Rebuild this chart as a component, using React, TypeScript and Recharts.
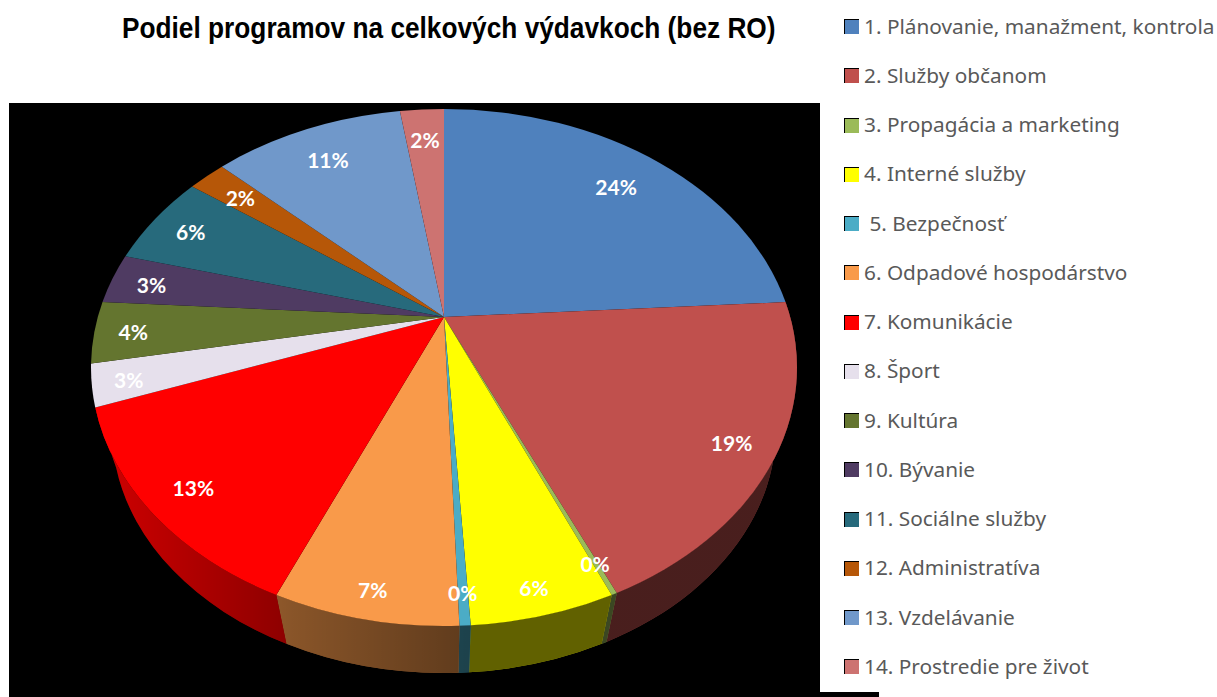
import React from "react";
import { Legend, Pie, PieChart } from "recharts";

const categories = [
  "1. Plánovanie, manažment, kontrola",
  "2. Služby občanom",
  "3. Propagácia a marketing",
  "4. Interné služby",
  " 5. Bezpečnosť",
  "6. Odpadové hospodárstvo",
  "7. Komunikácie",
  "8. Šport",
  "9. Kultúra",
  "10. Bývanie",
  "11. Sociálne služby",
  "12. Administratíva",
  "13. Vzdelávanie",
  "14. Prostredie pre život",
];
const shares = [24.05, 19.25, 0.22, 5.52, 0.42, 7.08, 12.98, 2.63, 3.86, 3.16, 5.83, 2.08, 10.55, 2.43];
const colors = [
  "#4F81BD", "#C0504D", "#9BBB59", "#FFFF00", "#4BACC6", "#F99A4A", "#FF0000",
  "#E6E0EC", "#64752F", "#4F3B62", "#276A7C", "#B65708", "#7098CA", "#CD7371",
];

const data = categories.map((name, i) => ({ name, value: shares[i], fill: colors[i] }));

// how far out each percent label sits, as a fraction of the radius
const labelReach = [0.809, 0.884, 0.906, 0.92, 0.91, 0.915, 0.877, 0.9, 0.89, 0.879, 0.868, 0.843, 0.823, 0.835];

// the picture is a perspective view: the apex sits above the centre of the rim ellipse
const PERSPECTIVE = 0.1954;
const RIM_RATIO = 258.5 / 353;
const DEPTH_SCALE = 0.94;
const DEPTH_DROP = 62.5;

function project(cx: number, cy: number, R: number, radius: number, angle: number) {
  const a = (angle * Math.PI) / 180;
  const u = radius * Math.cos(a);
  const v = -radius * Math.sin(a);
  const w = 1 - PERSPECTIVE * v;
  const flat = 1 - PERSPECTIVE * PERSPECTIVE;
  return {
    x: cx + (R * Math.sqrt(flat) * u) / w,
    y: cy + (R * RIM_RATIO * flat * v) / w,
  };
}

function rimLower(p: { x: number; y: number }, cx: number, cy: number, R: number) {
  const rimCy = cy + R * RIM_RATIO * PERSPECTIVE;
  return {
    x: cx + DEPTH_SCALE * (p.x - cx),
    y: rimCy + DEPTH_DROP + DEPTH_SCALE * (p.y - rimCy),
  };
}

function TopSlice(props: any) {
  const { cx, cy, outerRadius: R, startAngle, endAngle, fill } = props;
  const a = project(cx, cy, R, 1, startAngle);
  const b = project(cx, cy, R, 1, endAngle);
  const ry = R * RIM_RATIO;
  return <path d={`M${cx},${cy}L${a.x},${a.y}A${R},${ry} 0 0 1 ${b.x},${b.y}Z`} fill={fill} />;
}

function WallSlice(props: any) {
  const { cx, cy, outerRadius: R, startAngle, endAngle, fill } = props;
  const a = project(cx, cy, R, 1, startAngle);
  const b = project(cx, cy, R, 1, endAngle);
  // slices on the far side have no visible wall
  if (Math.max(a.y, b.y) < cy + R * RIM_RATIO * PERSPECTIVE + DEPTH_DROP) return null;
  const c = rimLower(b, cx, cy, R);
  const d = rimLower(a, cx, cy, R);
  const ry = R * RIM_RATIO;
  const path =
    `M${a.x},${a.y}A${R},${ry} 0 0 1 ${b.x},${b.y}L${c.x},${c.y}` +
    `A${R * DEPTH_SCALE},${ry * DEPTH_SCALE} 0 0 0 ${d.x},${d.y}Z`;
  return (
    <g>
      <path d={path} fill={fill} />
      <path d={path} fill="url(#wallShade)" />
    </g>
  );
}

function renderLabel(props: any) {
  const { cx, cy, outerRadius, midAngle, percent, index } = props;
  const p = project(cx, cy, outerRadius, labelReach[index], midAngle);
  return (
    <text
      x={p.x}
      y={p.y + 1}
      fill="#fff"
      textAnchor="middle"
      dominantBaseline="central"
      style={{ fontFamily: "Lato", fontWeight: 700, fontSize: 21 }}
    >
      {Math.round(percent * 100)}%
    </text>
  );
}

function LegendList({ payload }: any) {
  // both Pie series report entries, keep one row per category
  const rows = categories.map((name) => (payload || []).find((e: any) => e.value === name)).filter(Boolean);
  return (
    <div>
      {rows.map((e: any) => (
        <div key={e.value} style={{ height: 49.25, display: "flex", alignItems: "center" }}>
          <span
            style={{
              width: 15,
              height: 15,
              boxSizing: "border-box",
              background: e.payload?.fill ?? e.color,
              borderLeft: "1px solid #000",
              borderTop: "1px solid #000",
              marginRight: 5,
              flex: "none",
            }}
          />
          <span
            style={{
              whiteSpace: "pre",
              fontFamily: "'Noto Sans'",
              fontSize: 20.8,
              color: "#595959",
              position: "relative",
              top: -1,
            }}
          >
            {e.value}
          </span>
        </div>
      ))}
    </div>
  );
}

export default function App() {
  return (
    <div style={{ position: "absolute", left: 0, top: 0, width: 1217, height: 697, overflow: "hidden", background: "#fff" }}>
      <div style={{ position: "absolute", left: 9, top: 103, width: 811, height: 594, background: "#000" }} />
      <div style={{ position: "absolute", left: 820, top: 692, width: 59, height: 5, background: "#000" }} />
      <div
        style={{
          position: "absolute",
          left: 122,
          top: 11,
          whiteSpace: "nowrap",
          fontFamily: "'Liberation Sans'",
          fontWeight: 700,
          fontSize: 30,
          color: "#000",
          transformOrigin: "0 0",
          transform: "scaleX(0.875)",
        }}
      >
        Podiel programov na celkových výdavkoch (bez RO)
      </div>
      <PieChart
        width={1217}
        height={697}
        margin={{ top: 0, right: 0, bottom: 0, left: 0 }}
        style={{ position: "absolute", left: 0, top: 0 }}
      >
        <defs>
          <linearGradient id="wallShade" gradientUnits="userSpaceOnUse" x1={110} y1={0} x2={470} y2={0}>
            <stop offset="0%" stopColor="#000" stopOpacity={0.2} />
            <stop offset="50%" stopColor="#000" stopOpacity={0.45} />
            <stop offset="100%" stopColor="#000" stopOpacity={0.62} />
          </linearGradient>
        </defs>
        <Pie
          data={data}
          dataKey="value"
          nameKey="name"
          cx={444}
          cy={317}
          outerRadius={353}
          startAngle={90}
          endAngle={-270}
          stroke="none"
          legendType="none"
          isAnimationActive={false}
          shape={WallSlice}
          label={false}
        />
        <Pie
          data={data}
          dataKey="value"
          nameKey="name"
          cx={444}
          cy={317}
          outerRadius={353}
          startAngle={90}
          endAngle={-270}
          stroke="none"
          isAnimationActive={false}
          shape={TopSlice}
          label={renderLabel}
          labelLine={false}
        />
        <Legend
          layout="vertical"
          align="right"
          verticalAlign="top"
          itemSorter={null}
          content={LegendList as any}
          wrapperStyle={{ left: 844, top: 2, width: 373, right: "auto" }}
        />
      </PieChart>
    </div>
  );
}
